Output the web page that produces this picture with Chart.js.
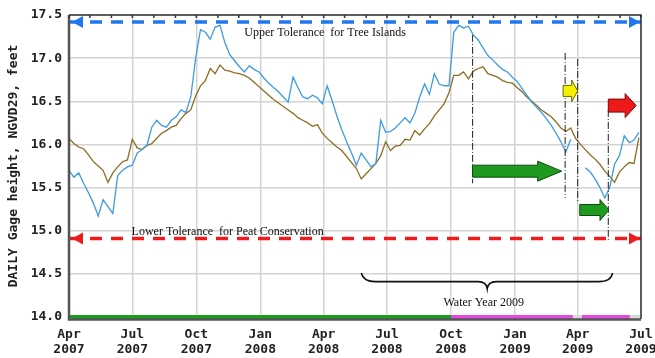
<!DOCTYPE html>
<html>
<head>
<meta charset="utf-8">
<title>Daily gage height</title>
<script src="https://cdn.jsdelivr.net/npm/chart.js@4.4.1/dist/chart.umd.min.js"></script>
<style>
  html, body { margin: 0; padding: 0; background: #fff; }
  #wrap { width: 655px; height: 358px; }
</style>
</head>
<body>
<div id="wrap"><canvas id="stageChart"></canvas></div>
<script>
// weekly stage readings, first value on 2007-04-01
const startDate = Date.UTC(2007, 3, 1);
const weekStep = 7;

const brownLevels = [
  16.07, 16.01, 15.97, 15.95, 15.88, 15.80, 15.75, 15.70, 15.56, 15.67,
  15.74, 15.80, 15.82, 16.06, 15.96, 15.94, 15.99, 16.01, 16.07, 16.13,
  16.16, 16.20, 16.22, 16.30, 16.36, 16.40, 16.56, 16.68, 16.74, 16.88,
  16.82, 16.92, 16.86, 16.85, 16.83, 16.82, 16.80, 16.77, 16.72, 16.67,
  16.62, 16.57, 16.52, 16.48, 16.44, 16.40, 16.36, 16.31, 16.28, 16.25,
  16.21, 16.23, 16.13, 16.07, 16.02, 15.97, 15.93, 15.86, 15.79, 15.72,
  15.60, 15.66, 15.72, 15.78, 15.87, 16.03, 15.93, 15.98, 15.99, 16.06,
  16.05, 16.16, 16.11, 16.18, 16.24, 16.33, 16.40, 16.47, 16.60, 16.80,
  16.80, 16.84, 16.76, 16.85, 16.88, 16.90, 16.82, 16.80, 16.78, 16.74,
  16.72, 16.71, 16.66, 16.61, 16.55, 16.50, 16.45, 16.40, 16.36, 16.32,
  16.26, 16.19, 16.15, 16.19, 16.07, 16.00, 15.94, 15.88, 15.83, 15.77,
  15.69, 15.63, 15.56, 15.68, 15.74, 15.79, 15.78, 16.08
];

const blueLevels = [
  15.70, 15.62, 15.67, 15.55, 15.44, 15.32, 15.17, 15.36, 15.28, 15.20,
  15.64, 15.70, 15.74, 15.76, 15.90, 15.94, 15.99, 16.20, 16.28, 16.22,
  16.20, 16.28, 16.32, 16.40, 16.37, 16.55, 17.00, 17.33, 17.30, 17.22,
  17.36, 17.38, 17.18, 17.04, 16.97, 16.90, 16.84, 16.91, 16.87, 16.84,
  16.77, 16.71, 16.66, 16.61, 16.55, 16.49, 16.78, 16.66, 16.55, 16.53,
  16.57, 16.54, 16.47, 16.68, 16.51, 16.33, 16.17, 16.03, 15.90, 15.76,
  15.90, 15.82, 15.74, 15.78, 16.28, 16.14, 16.15, 16.19, 16.25, 16.31,
  16.25, 16.36, 16.55, 16.70, 16.58, 16.82, 16.70, 16.68, 16.68, 17.30,
  17.38, 17.35, 17.37, 17.27, 17.21, 17.12, 17.03, 16.98, 16.92, 16.87,
  16.84, 16.78, 16.73, 16.65, 16.57, 16.49, 16.43, 16.37, 16.30, 16.22,
  16.13, 16.03, 15.91, 16.06, null, null, 15.73, 15.68, 15.60, 15.50,
  15.38, 15.50, 15.77, 15.87, 16.10, 16.02, 16.05, 16.14
];

const tickMonths = ['Apr', 'Jul', 'Oct', 'Jan', 'Apr', 'Jul', 'Oct', 'Jan', 'Apr', 'Jul'];
const tickYears = ['2007', '2007', '2007', '2008', '2008', '2008', '2008', '2009', '2009', '2009'];

const upperTolerance = 17.42;
const lowerTolerance = 14.91;

// coloured period bar along the 14.0 line (days from start)
const periodStart = [0, 549, 724, 737, 806];
const periodEnd = [549, 724, 737, 806, 822];

// dash-dot markers
const markerDays = [580, 713, 731, 775];
const markerTops = [17.27, 17.06, 16.99, 16.40];
const markerBottoms = [15.55, 15.38, 15.32, 14.87];

// block arrows
const arrowFrom = [580, 734, 710, 775];
const arrowTo = [708, 776, 731, 815];
const arrowLevel = [15.69, 15.24, 16.62, 16.45];

// water year brace
const braceStart = 420;
const braceEnd = 781;
const braceTip = 601;
const braceLevels = [14.51, 14.41, 14.33];

const noteText = ['Upper Tolerance  for Tree Islands', 'Lower Tolerance  for Peat Conservation', 'Water Year 2009'];
const noteDay = [368, 228, 596];
const noteLevel = [17.26, 14.95, 14.13];

function dayOf(year, month) {
  return (Date.UTC(year, month, 1) - startDate) / 86400000;
}

const monthDays = [];
for (let i = 0; i <= 27; i++) monthDays.push(dayOf(2007, 3 + i));
const quarterDays = monthDays.filter((d, i) => i % 3 === 0);
const lastDay = monthDays[monthDays.length - 1];

const periodColors = ['#1c9c1c', '#e448e0', '#d8d8d8', '#e448e0', '#d8d8d8'];
const arrowColors = ['#1f9a1f', '#1f9a1f', '#f4f000', '#ee1a1a'];
const arrowEdges = ['#0d4a0d', '#0d4a0d', '#6a6a00', '#7a0a0a'];
const arrowShaft = [6, 5.5, 5.5, 6.5];
const arrowHead = [10, 10.5, 11, 12];
const arrowHeadLen = [24, 9, 6, 11];

const datasets = [
  {
    label: 'blue',
    data: blueLevels.map((v, i) => ({ x: i * weekStep, y: v })),
    borderColor: '#3d9be0',
    borderWidth: 1.3,
    spanGaps: false,
    order: 2
  },
  {
    label: 'brown',
    data: brownLevels.map((v, i) => ({ x: i * weekStep, y: v })),
    borderColor: '#8c6d23',
    borderWidth: 1.3,
    order: 3
  },
  {
    label: 'upper',
    data: [{ x: 0, y: upperTolerance }, { x: lastDay, y: upperTolerance }],
    borderColor: '#1f78f0',
    borderWidth: 3.5,
    borderDash: [12, 9],
    order: 1
  },
  {
    label: 'lower',
    data: [{ x: 0, y: lowerTolerance }, { x: lastDay, y: lowerTolerance }],
    borderColor: '#ee1c1c',
    borderWidth: 3.5,
    borderDash: [12, 9],
    order: 1
  }
];

periodStart.forEach((s, i) => {
  datasets.push({
    label: 'period' + i,
    data: [{ x: s, y: 14 }, { x: periodEnd[i], y: 14 }],
    borderColor: periodColors[i],
    borderWidth: 4,
    clip: false,
    order: 0
  });
});

markerDays.forEach((d, i) => {
  datasets.push({
    label: 'marker' + i,
    data: [{ x: d, y: markerTops[i] }, { x: d, y: markerBottoms[i] }],
    borderColor: '#222',
    borderWidth: 1,
    borderDash: [7, 2, 1, 2],
    order: 1
  });
});

function arrowHeadAt(ctx, x, y, dir, color) {
  ctx.fillStyle = color;
  ctx.beginPath();
  ctx.moveTo(x, y);
  ctx.lineTo(x - dir * 11, y - 6);
  ctx.lineTo(x - dir * 11, y + 6);
  ctx.closePath();
  ctx.fill();
}

const overlays = {
  id: 'overlays',
  afterDatasetsDraw(chart) {
    const ctx = chart.ctx;
    const xs = chart.scales.x;
    const ys = chart.scales.y;
    const a = chart.chartArea;
    ctx.save();

    // frame
    ctx.strokeStyle = '#333';
    ctx.lineWidth = 1.5;
    ctx.beginPath();
    ctx.moveTo(a.left, a.top);
    ctx.lineTo(a.right, a.top);
    ctx.lineTo(a.right, a.bottom + 2);
    ctx.stroke();
    ctx.strokeStyle = '#555';
    ctx.lineWidth = 2.5;
    ctx.beginPath();
    ctx.moveTo(a.left, a.top);
    ctx.lineTo(a.left, a.bottom + 2.5);
    ctx.lineTo(a.right, a.bottom + 2.5);
    ctx.stroke();

    // monthly ticks along the top
    ctx.strokeStyle = '#333';
    ctx.lineWidth = 1.5;
    monthDays.forEach(d => {
      const px = xs.getPixelForValue(d);
      ctx.beginPath();
      ctx.moveTo(px, a.top);
      ctx.lineTo(px, a.top + 3);
      ctx.stroke();
    });

    // tolerance arrowheads
    const yu = ys.getPixelForValue(upperTolerance);
    const yl = ys.getPixelForValue(lowerTolerance);
    arrowHeadAt(ctx, a.left + 3, yu, -1, '#1f78f0');
    arrowHeadAt(ctx, a.right - 1, yu, 1, '#1f78f0');
    arrowHeadAt(ctx, a.left + 3, yl, -1, '#ee1c1c');
    arrowHeadAt(ctx, a.right - 1, yl, 1, '#ee1c1c');

    // notes
    ctx.fillStyle = '#111';
    ctx.font = '12px "Liberation Serif"';
    ctx.textAlign = 'center';
    ctx.textBaseline = 'alphabetic';
    noteText.forEach((t, i) => {
      ctx.fillText(t, xs.getPixelForValue(noteDay[i]), ys.getPixelForValue(noteLevel[i]));
    });

    // brace over the water year
    const bx0 = xs.getPixelForValue(braceStart);
    const bx1 = xs.getPixelForValue(braceEnd);
    const bxm = xs.getPixelForValue(braceTip);
    const by0 = ys.getPixelForValue(braceLevels[0]);
    const by1 = ys.getPixelForValue(braceLevels[1]);
    const by2 = ys.getPixelForValue(braceLevels[2]);
    ctx.strokeStyle = '#111';
    ctx.lineWidth = 1.6;
    ctx.beginPath();
    ctx.moveTo(bx0, by0);
    ctx.quadraticCurveTo(bx0 + 2, by1, bx0 + 14, by1);
    ctx.lineTo(bxm - 9, by1);
    ctx.quadraticCurveTo(bxm - 1, by1, bxm, by2);
    ctx.quadraticCurveTo(bxm + 1, by1, bxm + 9, by1);
    ctx.lineTo(bx1 - 14, by1);
    ctx.quadraticCurveTo(bx1 - 1, by1, bx1, by0);
    ctx.stroke();

    // block arrows
    arrowFrom.forEach((f, i) => {
      const x0 = xs.getPixelForValue(f);
      const x1 = xs.getPixelForValue(arrowTo[i]);
      const yc = ys.getPixelForValue(arrowLevel[i]);
      const sh = arrowShaft[i];
      const hh = arrowHead[i];
      const hx = x1 - arrowHeadLen[i];
      ctx.beginPath();
      ctx.moveTo(x0, yc - sh);
      ctx.lineTo(hx, yc - sh);
      ctx.lineTo(hx, yc - hh);
      ctx.lineTo(x1, yc);
      ctx.lineTo(hx, yc + hh);
      ctx.lineTo(hx, yc + sh);
      ctx.lineTo(x0, yc + sh);
      ctx.closePath();
      ctx.fillStyle = arrowColors[i];
      ctx.fill();
      ctx.strokeStyle = arrowEdges[i];
      ctx.lineWidth = 1;
      ctx.stroke();
    });

    ctx.restore();
  }
};

Chart.defaults.color = '#222';

new Chart(document.getElementById('stageChart'), {
  type: 'line',
  data: { datasets: datasets },
  options: {
    responsive: true,
    maintainAspectRatio: false,
    animation: false,
    elements: { point: { radius: 0 }, line: { tension: 0 } },
    layout: { padding: { top: 15, right: 14, left: 0, bottom: 0 } },
    plugins: { legend: { display: false }, tooltip: { enabled: false } },
    scales: {
      x: {
        type: 'linear',
        min: 0,
        max: lastDay,
        afterBuildTicks: s => { s.ticks = quarterDays.map(v => ({ value: v })); },
        afterFit: s => { s.height = 41; s.paddingLeft = 0; s.paddingRight = 0; },
        grid: { color: '#d4d4d4', lineWidth: 1.5, drawTicks: false },
        border: { display: false },
        ticks: {
          autoSkip: false,
          maxRotation: 0,
          padding: 10,
          font: { family: 'DejaVu Sans Mono', weight: 'bold', size: 13, lineHeight: 1.15 },
          callback: (v, i) => [tickMonths[i], tickYears[i]]
        }
      },
      y: {
        min: 14,
        max: 17.5,
        afterFit: s => { s.width = 69; s.paddingTop = 0; s.paddingBottom = 0; },
        grid: { color: '#d4d4d4', lineWidth: 1.5, drawTicks: false },
        border: { display: false },
        ticks: {
          stepSize: 0.5,
          padding: 7,
          font: { family: 'DejaVu Sans Mono', weight: 'bold', size: 13 },
          callback: v => v.toFixed(1)
        },
        title: {
          display: true,
          text: 'DAILY Gage height, NGVD29, feet',
          padding: { top: 6, bottom: 0 },
          font: { family: 'DejaVu Sans Mono', weight: 'bold', size: 13 }
        }
      }
    }
  },
  plugins: [overlays]
});
</script>
</body>
</html>
